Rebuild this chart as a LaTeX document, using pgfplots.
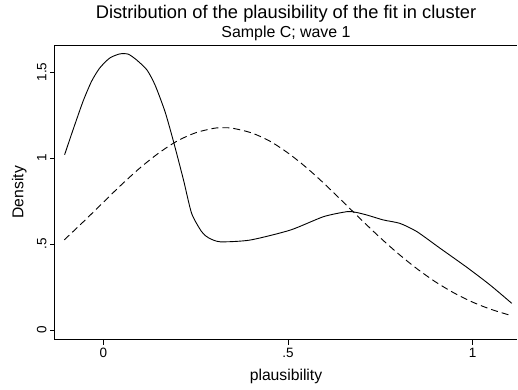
\documentclass[border=0pt]{standalone}
\usepackage{pgfplots}
\pgfplotsset{compat=1.18}
\usepackage{fontspec}
\setmainfont{Liberation Sans}
\begin{document}
\begin{tikzpicture}[x=1pt,y=1pt]
\useasboundingbox (-55,-49.5) rectangle (463,339.5);
\begin{axis}[
  at={(0,0)}, anchor=south west,
  scale only axis, width=462pt, height=294.5pt,
  xmin=-0.131, xmax=1.12, ymin=-0.055, ymax=1.657,
  axis line style={draw=none},
  tick align=outside, xtick pos=bottom, ytick pos=left,
  major tick length=5pt,
  tick style={black, line width=0.8pt},
  xtick={0,0.5,1}, xticklabels={0,.5,1},
  ytick={0,0.5,1,1.5}, yticklabels={0,.5,1,1.5},
  xticklabel style={font=\fontsize{13.5}{16}\selectfont},
  yticklabel style={font=\fontsize{13.5}{16}\selectfont, rotate=90, anchor=south},
  /pgf/number format/assume math mode=true,
  clip=false,
]
\draw[line width=1pt] (rel axis cs:0,1) -- (rel axis cs:0,0) -- (rel axis cs:1,0);
\draw[line width=1pt] (rel axis cs:0,1) -- (rel axis cs:1,1);
\addplot[black, line width=0.9pt, smooth, tension=0.4] coordinates {
(-0.105,1.019) (-0.082,1.165) (-0.055,1.330) (-0.032,1.446) (-0.010,1.523)
(0.017,1.581) (0.044,1.605) (0.067,1.604) (0.090,1.570) (0.118,1.512)
(0.140,1.424) (0.167,1.269) (0.190,1.095) (0.217,0.872) (0.239,0.678)
(0.266,0.572) (0.284,0.537) (0.316,0.513) (0.397,0.523) (0.506,0.581)
(0.596,0.659) (0.659,0.688) (0.682,0.685) (0.713,0.669) (0.758,0.640)
(0.803,0.620) (0.849,0.572) (0.912,0.475) (0.984,0.365) (1.047,0.262)
(1.106,0.155)
};
\addplot[black, line width=0.9pt, smooth, dash pattern=on 7pt off 4pt] coordinates {
(-0.106,0.524) (-0.05,0.638) (0,0.743) (0.05,0.847) (0.1,0.944) (0.15,1.029)
(0.2,1.099) (0.25,1.147) (0.3,1.173) (0.325,1.176) (0.35,1.173) (0.4,1.147)
(0.45,1.099) (0.5,1.029) (0.55,0.944) (0.6,0.847) (0.65,0.743) (0.7,0.638)
(0.75,0.536) (0.8,0.441) (0.85,0.355) (0.9,0.279) (0.95,0.215) (1.0,0.162)
(1.05,0.120) (1.106,0.083)
};
\node[anchor=base, font=\fontsize{18.3}{22}\selectfont] at ([yshift=27pt]rel axis cs:0.5,1) {Distribution of the plausibility of the fit in cluster};
\node[anchor=base, font=\fontsize{15.9}{19}\selectfont] at ([yshift=8pt]rel axis cs:0.5,1) {Sample C; wave 1};
\node[anchor=base, font=\fontsize{15.7}{19}\selectfont] at ([yshift=-41pt]rel axis cs:0.5,0) {plausibility};
\node[anchor=base, rotate=90, font=\fontsize{15.7}{19}\selectfont] at ([xshift=-31.5pt]rel axis cs:0,0.5) {Density};
\end{axis}
\end{tikzpicture}
\end{document}
